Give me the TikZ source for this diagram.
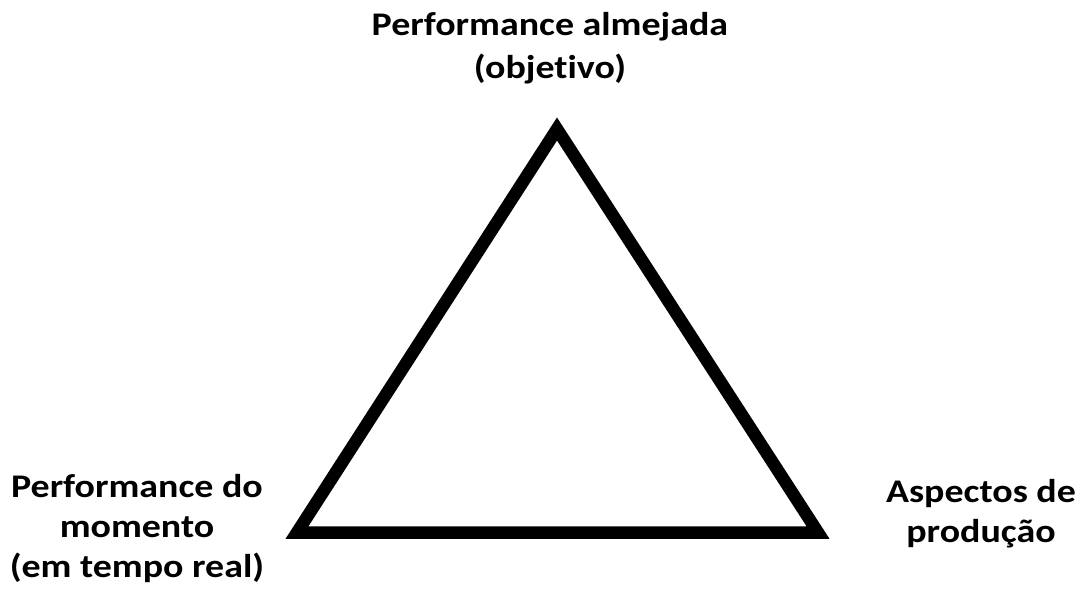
\documentclass[tikz,border=0pt]{standalone}
\usepackage{graphicx}
\usepackage{fontspec}
\setmainfont{Carlito}
\newfontfamily\lblfont[Ligatures=NoCommon]{Carlito}
\newcommand\wideline[1]{\scalebox{1.15}[1]{#1}}
\begin{document}
\begin{tikzpicture}[x=1pt,y=-1pt,
  label/.style={font=\lblfont\bfseries\fontsize{33}{40}\selectfont, align=center, inner sep=0pt, anchor=base},
  tri/.style={line width=12.5pt, line join=miter, draw=black}]
\useasboundingbox (0,0) rectangle (1086,598);
\coordinate (A) at (557,129);
\coordinate (B) at (297,532.5);
\coordinate (C) at (818,532.5);
\draw[tri] (A) -- (B) -- (C) -- cycle;
\node[label, font=\lblfont\bfseries\fontsize{33}{43}\selectfont] (top) at (550,78)
  {\wideline{Performance almejada}\\\wideline{(objetivo)}};
\node[label] (left) at (137,577)
  {\wideline{Performance do}\\\wideline{momento}\\\wideline{(em tempo real)}};
\node[label] (right) at (981,542)
  {\wideline{Aspectos de}\\\wideline{produção}};
\end{tikzpicture}
\end{document}
